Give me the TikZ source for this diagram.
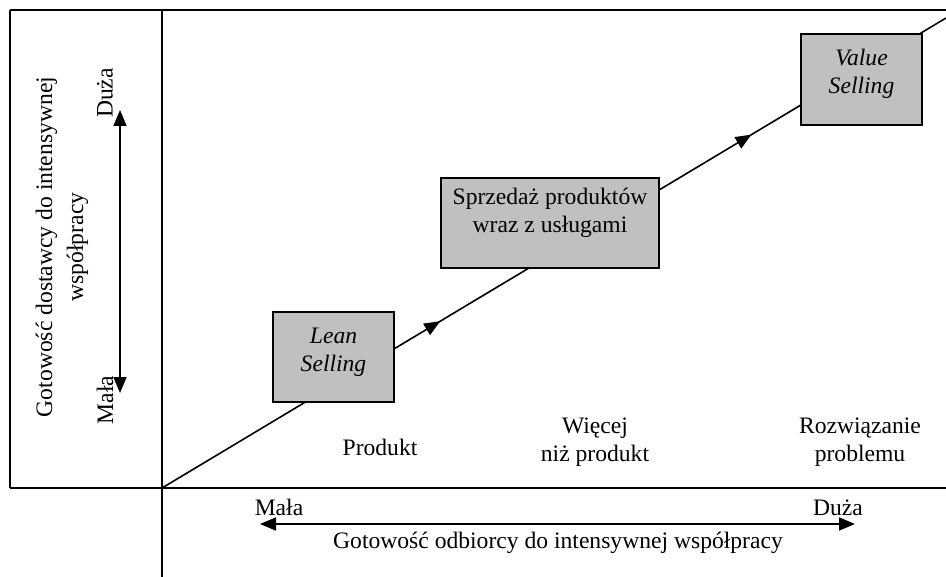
\documentclass[tikz,border=0pt]{standalone}
\usepackage{fontspec}
\setmainfont{Liberation Serif}
\usetikzlibrary{arrows.meta,decorations.markings,positioning}
\definecolor{boxgray}{HTML}{C0C0C0}

\begin{document}
\begin{tikzpicture}[x=0.5pt, y=-0.5pt, line width=0.8pt,
head/.tip={Triangle[length=8pt,width=6.5pt]},
lbl/.style={font=\fontsize{11.8}{14}\selectfont, align=center, inner sep=0pt},
box/.style={draw, line width=0.6pt, fill=boxgray, inner sep=0pt},
mids/.style={postaction={decorate}, decoration={markings,
mark=at position 0.355 with {\arrow{head}},
mark=at position 0.752 with {\arrow{head}}}}]
\useasboundingbox (0,0) rectangle (946,577);
% frame
\draw (10,488) -- (10,10);
\draw [line width=1.2pt] (10,10) -- (946,10);
\draw (10,488) -- (946,488);
\draw (162,10) -- (162,577);
% path of selling types
\coordinate (start) at (162,488);
\coordinate (finish) at (946,18);
\draw [mids] (start) -- (finish);
\node [box, minimum width=60.5pt, minimum height=45pt] (lean) at (333.5,357) {};
\node [box, minimum width=109pt, minimum height=45pt] (sales) at (550,223) {};
\node [box, minimum width=60.5pt, minimum height=45.5pt] (value) at (861.5,79.5) {};
\node [lbl, font=\fontsize{11.8}{14}\selectfont\itshape] (lean_txt) at (333.5,352) {Lean\\Selling};
\node [lbl] (sales_txt) at (550,213) {Sprzedaż produktów\\wraz z usługami};
\node [lbl, font=\fontsize{11.8}{14}\selectfont\itshape] (value_txt) at (861.5,74) {Value\\Selling};
% offer
\node [lbl] (offer_1) at (380,447) {Produkt};
\node [lbl] (offer_2) at (595,442) {Więcej\\niż produkt};
\node [lbl] (offer_3) at (860,442) {Rozwiązanie\\problemu};
% vertical axis
\coordinate (y_lo) at (120,393);
\coordinate (y_hi) at (120,110);
\draw [head-head] (y_lo) -- (y_hi);
\node [lbl, rotate=90] (y_max) at (105,93) {Duża};
\node [lbl, rotate=90] (y_min) at (105,400) {Mała};
\node [lbl, rotate=90, font=\fontsize{11.8}{15.5}\selectfont] (y_title) at (62,247) {Gotowość dostawcy do intensywnej\\współpracy};
% horizontal axis
\coordinate (x_lo) at (260,524);
\coordinate (x_hi) at (855,524);
\draw [head-head] (x_lo) -- (x_hi);
\node [lbl] (x_min) at (279,507) {Mała};
\node [lbl] (x_max) at (838,508) {Duża};
\node [lbl] (x_title) at (558,543) {Gotowość odbiorcy do intensywnej współpracy};
\end{tikzpicture}
\end{document}
